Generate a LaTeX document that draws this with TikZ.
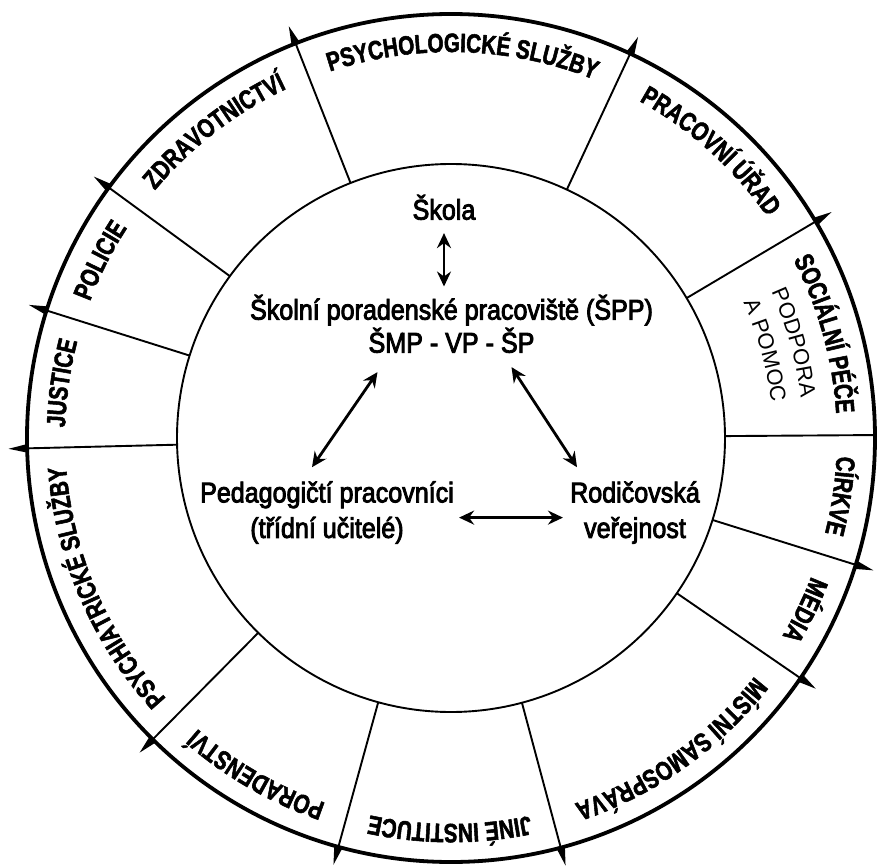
\documentclass[tikz,border=0pt]{standalone}
\usepackage{fontspec}
\setmainfont{Liberation Sans}
\newfontfamily\innerfont{Liberation Sans}[FakeStretch=0.88,FakeBold=3]
\newfontfamily\sectorfont{Liberation Sans}[FakeStretch=0.78,FakeBold=2]
\usetikzlibrary{arrows.meta,decorations.text}
\newcommand{\sectorstyle}{\sectorfont\bfseries\fontsize{26.5}{30}\selectfont}
\newcommand{\helpstyle}{\fontsize{22}{26}\selectfont}

\begin{document}
\begin{tikzpicture}[x=1pt,y=1pt,
    ring/.style={line width=1.9pt},
    spike/.style={-{Triangle[length=19pt,width=8pt]}},
    twoway/.style={{Stealth[length=15pt,width=14pt,inset=5pt]}-{Stealth[length=15pt,width=14pt,inset=5pt]},line width=2.8pt},
    inner/.style={font=\innerfont\fontsize{28.5}{35.5}\selectfont,align=center,inner sep=2pt}]
  \useasboundingbox (-451,-427) rectangle (434,438);
  % rings
  \draw[line width=3.8pt] (0,0) circle (424);
  \draw[ring] (0,0) circle (274);
  % sector borders
  \foreach \a in {111.5,65,30.7,-17.4,-34.5,-75,-105.4,-134.7,-178.6,-197.5,-216.2}
    \draw[ring,spike] (\a:274) -- (\a:443);
  \draw[ring] (0.4:274) -- (0.4:424);
  % sector names
  \foreach \a/\b/\txt in {111.5/65/PSYCHOLOGICKÉ SLUŽBY, 65/30.7/PRACOVNÍ ÚŘAD,
      30.7/0.4/SOCIÁLNÍ PÉČE, 0.4/-17.4/CÍRKVE, -17.4/-34.5/MÉDIA,
      -34.5/-75/MÍSTNÍ SAMOSPRÁVA, -75/-105.4/JINÉ INSTITUCE,
      -105.4/-134.7/PORADENSTVÍ, -134.7/-178.6/PSYCHIATRICKÉ SLUŽBY,
      -178.6/-197.5/JUSTICE, -197.5/-216.2/POLICIE, -216.2/-248.5/ZDRAVOTNICTVÍ}
    \path[decorate,decoration={text along path,text align=center,
        text/.expanded={|\noexpand\sectorstyle|\txt}}]
      (\a:386) arc[start angle=\a,end angle=\b,radius=386];
  \path[decorate,decoration={text along path,text align=center,text={|\helpstyle|PODPORA}}]
    (30.7:352) arc[start angle=30.7,end angle=0.4,radius=352];
  \path[decorate,decoration={text along path,text align=center,text={|\helpstyle|A POMOC}}]
    (30.7:322) arc[start angle=30.7,end angle=0.4,radius=322];

  % inner part
  \node[inner] (skola) at (-7,230.7) {Škola};
  \node[inner,font=\innerfont\fontsize{28.5}{33}\selectfont] (spp) at (0.5,114.2)
    {Školní poradenské pracoviště (ŠPP)\\ŠMP - VP - ŠP};
  \node[inner] (ped) at (-124,-74.6) {Pedagogičtí pracovníci\\(třídní učitelé)};
  \node[inner] (rod) at (184,-74.6) {Rodičovská\\veřejnost};

  \draw[twoway,shorten <=11pt,shorten >=6pt] (skola.south) -- (skola.south |- spp.north);
  \draw[twoway] ([shift={(-74,-17)}]spp.south) -- ([shift={(-15,12)}]ped.north);
  \draw[twoway] ([shift={(60,-12)}]spp.south) -- ([shift={(-58,12)}]rod.north);
  \draw[twoway,shorten <=3pt,shorten >=5pt] ([yshift=-5pt]ped.east) -- ([yshift=-5pt]rod.west);
\end{tikzpicture}
\end{document}
